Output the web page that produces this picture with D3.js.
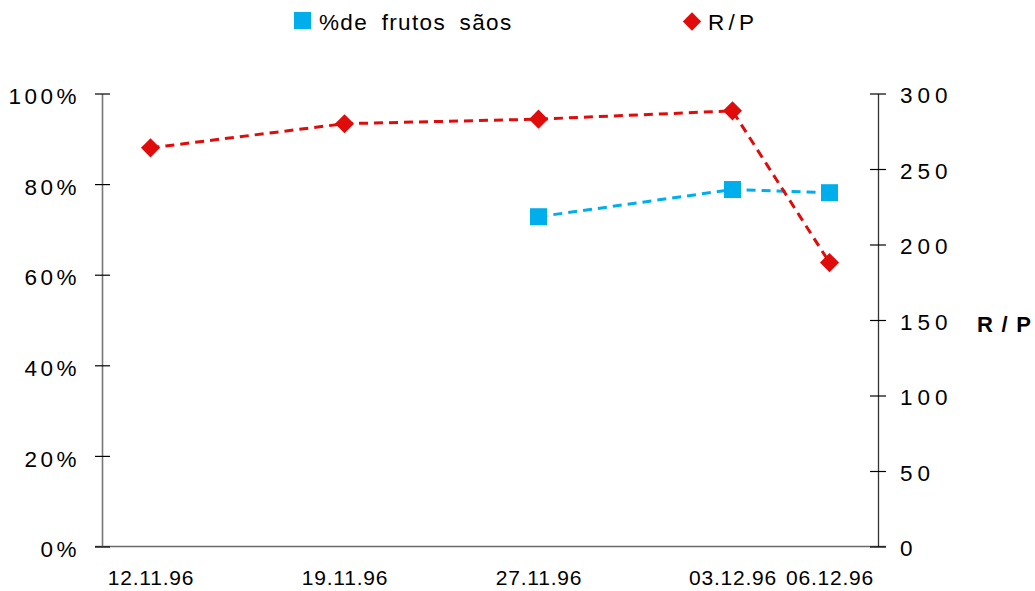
<!DOCTYPE html>
<html>
<head>
<meta charset="utf-8">
<script src="https://cdn.jsdelivr.net/npm/d3@7"></script>
<style>
  html, body { margin: 0; padding: 0; background: #fff; }
  svg text { font-family: "Liberation Sans", Arial, sans-serif; fill: #000; }
</style>
</head>
<body>
<svg id="chart" width="1035" height="591"></svg>
<script>
// ---- data ----
const dateLabels = ["12.11.96", "19.11.96", "27.11.96", "03.12.96", "06.12.96"];
const datePos = [0, 1, 2, 3, 3.5];                 // axis position of each date
const pctSaos = [null, null, 72.8, 78.8, 78.1];    // %de frutos sãos
const rpValues = [264, 280, 283, 288.5, 188];      // R/P
const leftTicks = [0, 20, 40, 60, 80, 100];
const rightTicks = [0, 50, 100, 150, 200, 250, 300];
const seriesNames = ["%de frutos sãos", "R/P"];
const colors = { pct: "#00aeec", rp: "#e00b0b" };

// ---- layout ----
const svg = d3.select("#chart");
const plot = { left: 102, right: 878, top: 93.5, bottom: 546.5 };

const x = d3.scaleLinear().domain([-0.25, 3.75]).range([plot.left, plot.right]);
const yL = d3.scaleLinear().domain([0, 100]).range([plot.bottom, plot.top]);
const yR = d3.scaleLinear().domain([0, 300]).range([plot.bottom, plot.top]);

// bottom axis line
svg.append("line")
  .attr("x1", 95).attr("x2", 886)
  .attr("y1", plot.bottom).attr("y2", plot.bottom)
  .attr("stroke", "#6b6b6b").attr("stroke-width", 1.3);

// left axis
const gL = svg.append("g").attr("transform", `translate(${plot.left},0)`)
  .call(d3.axisLeft(yL).tickValues(leftTicks).tickFormat(d => d + "%").tickSize(0).tickPadding(22));
gL.select(".domain").attr("stroke", "#777").attr("stroke-width", 1.6);
gL.selectAll(".tick line").attr("x1", -7).attr("x2", 8).attr("stroke", "#000").attr("stroke-width", 1.2);
gL.selectAll(".tick text")
  .attr("font-size", 22.5).attr("letter-spacing", 3.5)
  .attr("dy", "0.45em");

// right axis
const gR = svg.append("g").attr("transform", `translate(${plot.right},0)`)
  .call(d3.axisRight(yR).tickValues(rightTicks).tickSize(0).tickPadding(22));
gR.select(".domain").attr("stroke", "#333").attr("stroke-width", 1.3);
gR.selectAll(".tick line").attr("x1", -8).attr("x2", 8).attr("stroke", "#000").attr("stroke-width", 1.2);
gR.selectAll(".tick text")
  .attr("font-size", 22.5).attr("letter-spacing", 5)
  .attr("dy", "0.4em");

// bottom labels
const gB = svg.append("g").attr("transform", `translate(0,${plot.bottom})`)
  .call(d3.axisBottom(x).tickValues(datePos).tickFormat((d, i) => dateLabels[i]).tickSize(0).tickPadding(24));
gB.select(".domain").remove();
gB.selectAll(".tick text").attr("font-size", 21).attr("letter-spacing", 0.8);

// right axis title
svg.append("text")
  .attr("x", 977).attr("y", 332)
  .attr("font-size", 22).attr("font-weight", "bold")
  .attr("textLength", 54).attr("lengthAdjust", "spacing")
  .text("R / P");

// ---- series ----
const pctData = datePos.map((p, i) => ({ p, v: pctSaos[i] })).filter(d => d.v != null);
const rpData = datePos.map((p, i) => ({ p, v: rpValues[i] }));

svg.append("path")
  .datum(pctData)
  .attr("fill", "none").attr("stroke", colors.pct).attr("stroke-width", 3)
  .attr("stroke-dasharray", "9,6")
  .attr("d", d3.line().x(d => x(d.p)).y(d => yL(d.v)));

svg.append("path")
  .datum(rpData)
  .attr("fill", "none").attr("stroke", colors.rp).attr("stroke-width", 3)
  .attr("stroke-dasharray", "9,6")
  .attr("d", d3.line().x(d => x(d.p)).y(d => yR(d.v)));

svg.selectAll(".sq").data(pctData).enter().append("rect")
  .attr("x", d => x(d.p) - 8.5).attr("y", d => yL(d.v) - 8.5)
  .attr("width", 17).attr("height", 17)
  .attr("fill", colors.pct);

const diamond = d3.symbol().type(d3.symbolSquare).size(13.5 * 13.5);
svg.selectAll(".dm").data(rpData).enter().append("path")
  .attr("d", diamond)
  .attr("transform", d => `translate(${x(d.p)},${yR(d.v)}) rotate(45)`)
  .attr("fill", colors.rp);

// ---- legend ----
const leg = svg.append("g");
leg.append("rect").attr("x", 294).attr("y", 12).attr("width", 17).attr("height", 17).attr("fill", colors.pct);
leg.append("text").attr("x", 319).attr("y", 29.5).attr("font-size", 22.5)
  .attr("letter-spacing", 0.8).attr("word-spacing", 6)
  .attr("textLength", 193).attr("lengthAdjust", "spacing")
  .text(seriesNames[0]);
leg.append("path").attr("d", d3.symbol().type(d3.symbolSquare).size(13 * 13))
  .attr("transform", "translate(692,21.5) rotate(45)").attr("fill", colors.rp);
leg.append("text").attr("x", 708).attr("y", 29.5).attr("font-size", 22.5)
  .attr("textLength", 46).attr("lengthAdjust", "spacing")
  .text(seriesNames[1]);
</script>
</body>
</html>
